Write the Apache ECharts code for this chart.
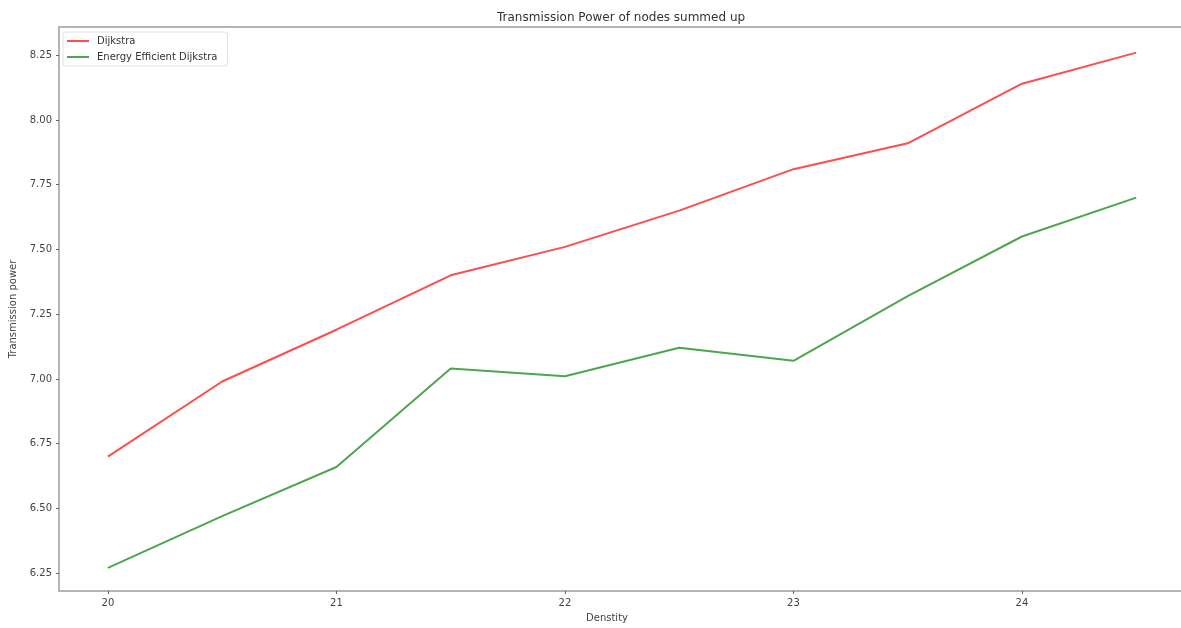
<!DOCTYPE html>
<html>
<head>
<meta charset="utf-8">
<script src="https://cdn.jsdelivr.net/npm/echarts@6/dist/echarts.min.js"></script>
<style>
  html, body { margin: 0; padding: 0; background: #fff; }
  #chart { width: 1181px; height: 628px; }
</style>
</head>
<body>
<div id="chart"></div>
<script>
// Density values on the x axis
const density = [20, 20.5, 21, 21.5, 22, 22.5, 23, 23.5, 24, 24.5];
// Summed transmission power per routing scheme
const dijkstra = [6.70, 6.99, 7.19, 7.40, 7.51, 7.65, 7.81, 7.91, 8.14, 8.26];
const energyEfficient = [6.27, 6.47, 6.66, 7.04, 7.01, 7.12, 7.07, 7.32, 7.55, 7.70];
// Tick labels
const xTicks = [20, 21, 22, 23, 24];
const yTicks = [6.25, 6.5, 6.75, 7.0, 7.25, 7.5, 7.75, 8.0, 8.25];

const font = 'DejaVu Sans';
const spine = { show: true, lineStyle: { color: '#b4b4b4', width: 2 } };
const chart = echarts.init(document.getElementById('chart'), null, { renderer: 'canvas' });

chart.setOption({
  animation: false,
  backgroundColor: '#ffffff',
  title: {
    text: 'Transmission Power of nodes summed up',
    left: 492,
    top: 7,
    textStyle: { fontFamily: font, fontSize: 12, fontWeight: 'normal', color: '#333' }
  },
  legend: {
    orient: 'vertical',
    left: 63,
    top: 32,
    padding: [4, 10, 4, 4],
    itemGap: 6,
    itemWidth: 22,
    itemHeight: 2,
    icon: 'rect',
    borderColor: '#e0e0e0',
    borderWidth: 1,
    borderRadius: 3,
    textStyle: { fontFamily: font, fontSize: 10, color: '#333', padding: [0, 0, 0, 3] },
    data: ['Dijkstra', 'Energy Efficient Dijkstra']
  },
  grid: {
    left: 59,
    top: 27,
    right: 0,
    bottom: 35,
    show: false,
    containLabel: false
  },
  xAxis: [
    {
      type: 'value',
      position: 'bottom',
      min: 19.786,
      max: 24.696,
      name: 'Denstity',
      nameLocation: 'middle',
      nameGap: 22,
      nameTextStyle: { fontFamily: font, fontSize: 10, color: '#444', padding: [0, 26, 0, 0] },
      axisLine: spine,
      splitLine: { show: false },
      axisTick: { show: true, length: 3, lineStyle: { color: '#666' }, customValues: xTicks },
      axisLabel: { fontFamily: font, fontSize: 10, color: '#444', margin: 7, customValues: xTicks }
    },
    {
      // top frame line
      type: 'value',
      position: 'top',
      min: 19.786,
      max: 24.696,
      axisLine: spine,
      axisTick: { show: false },
      axisLabel: { show: false },
      splitLine: { show: false }
    }
  ],
  yAxis: {
    type: 'value',
    min: 6.181,
    max: 8.359,
    name: 'Transmission power',
    nameLocation: 'middle',
    nameGap: 37,
    nameTextStyle: { fontFamily: font, fontSize: 10, color: '#444' },
    axisLine: spine,
    splitLine: { show: false },
    axisTick: { show: true, length: 3, lineStyle: { color: '#666' }, customValues: yTicks },
    axisLabel: {
      fontFamily: font, fontSize: 10, color: '#444', margin: 7,
      customValues: yTicks,
      formatter: v => v.toFixed(2)
    }
  },
  series: [
    {
      name: 'Dijkstra',
      type: 'line',
      data: density.map((d, i) => [d, dijkstra[i]]),
      showSymbol: false,
      color: '#ff4d4d',
      lineStyle: { width: 2, color: '#ff4d4d' }
    },
    {
      name: 'Energy Efficient Dijkstra',
      type: 'line',
      data: density.map((d, i) => [d, energyEfficient[i]]),
      showSymbol: false,
      color: '#4da64d',
      lineStyle: { width: 2, color: '#4da64d' }
    }
  ]
});
</script>
</body>
</html>
